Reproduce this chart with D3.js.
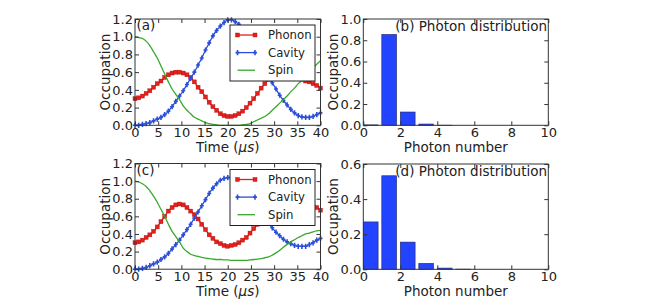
<!DOCTYPE html>
<meta charset="utf-8">
<style>
    body { margin: 0; background: #fff; }
    svg text { font-family: "DejaVu Sans", sans-serif; fill: #222; }
    .frame { fill: none; stroke: #333; stroke-width: 1; }
    .axis path { display: none; }
    .axis line { stroke: #333; }
    .legend .box { fill: #fff; stroke: #222; stroke-width: 1; }
</style>
<body>
<svg id="fig" width="664" height="305"></svg>
<script src="https://cdn.jsdelivr.net/npm/d3@7"></script>
<script>
    // time grid of the simulation (microseconds)
    var times = [0, 0.8, 1.6, 2.4, 3.2, 4, 4.8, 5.6, 6.4, 7.2, 8, 8.8, 9.6, 10.4, 11.2, 12, 12.8, 13.6, 14.4, 15.2,
        16, 16.8, 17.6, 18.4, 19.2, 20, 20.8, 21.6, 22.4, 23.2, 24, 24.8, 25.6, 26.4, 27.2, 28, 28.8, 29.6, 30.4, 31.2,
        32, 32.8, 33.6, 34.4, 35.2, 36, 36.8, 37.6, 38.4, 39.2, 40];

    // panel (a)
    var phononA = [0.30, 0.31, 0.33, 0.36, 0.39, 0.43, 0.47, 0.50, 0.54, 0.57, 0.59, 0.60, 0.60, 0.59, 0.57, 0.54, 0.49, 0.43, 0.38, 0.32,
        0.26, 0.21, 0.17, 0.13, 0.11, 0.10, 0.10, 0.11, 0.13, 0.16, 0.20, 0.25, 0.30, 0.36, 0.42, 0.47, 0.52, 0.56, 0.59, 0.60,
        0.60, 0.59, 0.58, 0.56, 0.54, 0.52, 0.50, 0.49, 0.47, 0.45, 0.42];
    var cavityA = [0.00, 0.00, 0.01, 0.02, 0.03, 0.05, 0.07, 0.09, 0.12, 0.16, 0.21, 0.27, 0.33, 0.39, 0.46, 0.53, 0.60, 0.68, 0.76, 0.85,
        0.93, 1.01, 1.07, 1.12, 1.16, 1.19, 1.19, 1.17, 1.14, 1.09, 1.03, 0.95, 0.87, 0.78, 0.70, 0.62, 0.55, 0.48, 0.41, 0.34,
        0.28, 0.23, 0.18, 0.14, 0.11, 0.095, 0.09, 0.09, 0.10, 0.12, 0.14];
    var spinA = [1.00, 0.99, 0.98, 0.95, 0.90, 0.83, 0.76, 0.67, 0.58, 0.49, 0.41, 0.35, 0.29, 0.22, 0.17, 0.13, 0.09, 0.07, 0.05, 0.03,
        0.02, 0.01, 0.005, 0, 0, 0, 0, 0, 0, 0.005, 0.01, 0.02, 0.04, 0.06, 0.08, 0.10, 0.13, 0.17, 0.21, 0.25,
        0.29, 0.33, 0.38, 0.42, 0.47, 0.51, 0.56, 0.61, 0.65, 0.69, 0.73];

    // panel (c)
    var phononC = [0.30, 0.31, 0.33, 0.36, 0.39, 0.43, 0.48, 0.54, 0.60, 0.66, 0.70, 0.73, 0.74, 0.73, 0.70, 0.66, 0.62, 0.57, 0.51, 0.45,
        0.39, 0.35, 0.31, 0.29, 0.27, 0.26, 0.27, 0.28, 0.30, 0.33, 0.36, 0.41, 0.46, 0.51, 0.56, 0.61, 0.65, 0.69, 0.72, 0.74,
        0.75, 0.76, 0.76, 0.76, 0.75, 0.74, 0.73, 0.72, 0.71, 0.70, 0.67];
    var cavityC = [0.00, 0.00, 0.01, 0.02, 0.04, 0.06, 0.08, 0.11, 0.14, 0.18, 0.23, 0.28, 0.33, 0.39, 0.45, 0.51, 0.58, 0.65, 0.72, 0.79,
        0.86, 0.92, 0.97, 1.01, 1.03, 1.04, 1.04, 1.03, 1.00, 0.96, 0.91, 0.85, 0.78, 0.71, 0.64, 0.58, 0.52, 0.47, 0.42, 0.38,
        0.34, 0.31, 0.29, 0.27, 0.26, 0.26, 0.26, 0.28, 0.30, 0.33, 0.35];
    var spinC = [1.00, 0.99, 0.97, 0.94, 0.89, 0.83, 0.76, 0.68, 0.60, 0.51, 0.43, 0.37, 0.31, 0.24, 0.20, 0.17, 0.155, 0.145, 0.135, 0.125,
        0.12, 0.115, 0.11, 0.11, 0.105, 0.105, 0.10, 0.10, 0.10, 0.10, 0.10, 0.105, 0.11, 0.115, 0.12, 0.13, 0.14, 0.16, 0.185, 0.215,
        0.25, 0.28, 0.31, 0.335, 0.36, 0.38, 0.40, 0.41, 0.425, 0.435, 0.44];

    // photon number distributions, panels (b) and (d)
    var photonN = [0, 1, 2, 3, 4, 5, 6, 7, 8, 9];
    var photonB = [0.004, 0.855, 0.125, 0.012, 0.001, 0, 0, 0, 0, 0];
    var photonD = [0.27, 0.533, 0.155, 0.034, 0.007, 0.001, 0, 0, 0, 0];

    var seriesNames = ["Phonon", "Cavity", "Spin"];
    var timeTicks = [0, 5, 10, 15, 20, 25, 30, 35, 40];
    var occTicksLeft = [0, 0.2, 0.4, 0.6, 0.8, 1.0, 1.2];
    var occTicksB = [0, 0.2, 0.4, 0.6, 0.8, 1.0];
    var occTicksD = [0, 0.2, 0.4, 0.6];
    var numTicks = [0, 2, 4, 6, 8, 10];

    var colors = { Phonon: "#e3201b", Cavity: "#2b4ed8", Spin: "#37a82b" };
    var fmt = d3.format(".1f");

    var svg = d3.select("#fig");

    function axes(g, x, y, xTicks, yTicks, xFmt, yFmt) {
        var top = y.range()[1], bottom = y.range()[0], left = x.range()[0], right = x.range()[1];
        g.append("g").attr("class", "axis").attr("transform", "translate(0," + bottom + ")")
            .call(d3.axisBottom(x).tickValues(xTicks).tickFormat(xFmt).tickSizeInner(-4).tickSizeOuter(0).tickPadding(2.5))
            .selectAll("text").style("font-size", "13px");
        g.append("g").attr("class", "axis").attr("transform", "translate(0," + top + ")")
            .call(d3.axisTop(x).tickValues(xTicks).tickFormat("").tickSizeInner(-4).tickSizeOuter(0));
        g.append("g").attr("class", "axis").attr("transform", "translate(" + left + ",0)")
            .call(d3.axisLeft(y).tickValues(yTicks).tickFormat(yFmt).tickSizeInner(-4).tickSizeOuter(0).tickPadding(2))
            .selectAll("text").style("font-size", "13px");
        g.append("g").attr("class", "axis").attr("transform", "translate(" + right + ",0)")
            .call(d3.axisRight(y).tickValues(yTicks).tickFormat("").tickSizeInner(-4).tickSizeOuter(0));
        g.selectAll(".axis").attr("font-family", null).attr("font-size", null);
        g.append("rect").attr("class", "frame")
            .attr("x", left).attr("y", top).attr("width", right - left).attr("height", bottom - top);
    }

    function marker(sel, name, color) {
        if (name == "Phonon") {
            sel.append("rect").attr("x", -2).attr("y", -2).attr("width", 4).attr("height", 4)
                .attr("fill", color).attr("stroke", "#b01010").attr("stroke-width", 0.4);
        } else if (name == "Cavity") {
            sel.append("path").attr("d", "M0,-2.6V2.6M-2,0H2")
                .attr("stroke", color).attr("stroke-width", 1.6).attr("fill", "none");
        }
    }

    function timePanel(top, bottom, tag, data) {
        var x = d3.scaleLinear().domain([0, 40]).range([135, 320.5]);
        var y = d3.scaleLinear().domain([0, 1.2]).range([bottom, top]);
        var g = svg.append("g");

        var line = d3.line()
            .x(function(d) { return x(d[0]); })
            .y(function(d) { return y(d[1]); })
            .curve(d3.curveCatmullRom);

        seriesNames.forEach(function(name, i) {
            var pts = times.map(function(t, k) { return [t, data[i][k]]; });
            g.append("path").attr("d", line(pts)).attr("fill", "none")
                .attr("stroke", colors[name]).attr("stroke-width", 1.3);
            if (name != "Spin") {
                g.selectAll(".m" + i).data(pts).enter().append("g")
                    .attr("transform", function(d) { return "translate(" + x(d[0]) + "," + y(d[1]) + ")"; })
                    .each(function() { marker(d3.select(this), name, colors[name]); });
            }
        });

        axes(g, x, y, timeTicks, occTicksLeft, d3.format("d"), fmt);

        g.append("text").attr("x", 136.5).attr("y", top + 11).style("font-size", "13.5px").text(tag);

        // legend
        var lg = g.append("g").attr("class", "legend").attr("transform", "translate(230," + (top + 6) + ")");
        lg.append("rect").attr("class", "box").attr("x", 0).attr("y", 0).attr("width", 85).attr("height", 56);
        seriesNames.forEach(function(name, i) {
            var ry = 10 + i * 17.6;
            lg.append("line").attr("x1", 7.5).attr("x2", 25).attr("y1", ry).attr("y2", ry)
                .attr("stroke", colors[name]).attr("stroke-width", 1.3);
            if (name != "Spin") {
                [7.5, 25].forEach(function(mx) {
                    marker(lg.append("g").attr("transform", "translate(" + mx + "," + ry + ")"), name, colors[name]);
                });
            }
            lg.append("text").attr("x", 38).attr("y", ry).attr("dy", "0.36em")
                .style("font-size", "11.7px").text(name);
        });

        g.append("text").attr("transform", "translate(110," + ((top + bottom) / 2) + ") rotate(-90)")
            .attr("text-anchor", "middle").style("font-size", "13.5px").text("Occupation");
        var xl = g.append("text").attr("x", (135 + 320.5) / 2).attr("y", bottom + 27)
            .attr("text-anchor", "middle").style("font-size", "13.5px");
        xl.append("tspan").text("Time (");
        xl.append("tspan").style("font-style", "italic").text("\u03bcs");
        xl.append("tspan").text(")");
    }

    function photonPanel(top, bottom, ymax, yTicks, title, values) {
        var x = d3.scaleLinear().domain([0, 10]).range([363.3, 548.3]);
        var y = d3.scaleLinear().domain([0, ymax]).range([bottom, top]);
        var g = svg.append("g");

        g.selectAll(".bar").data(photonN).enter().append("rect")
            .attr("x", function(n) { return x(n); })
            .attr("width", function() { return x(0.8) - x(0); })
            .attr("y", function(n, i) { return y(values[i]); })
            .attr("height", function(n, i) { return y(0) - y(values[i]); })
            .attr("fill", "#2243ff").attr("stroke", "#2a2a55").attr("stroke-width", 0.6);

        axes(g, x, y, numTicks, yTicks, d3.format("d"), fmt);

        g.append("text").attr("x", 547).attr("y", top + 12).attr("text-anchor", "end")
            .style("font-size", "13.5px").text(title);
        g.append("text").attr("transform", "translate(338," + ((top + bottom) / 2) + ") rotate(-90)")
            .attr("text-anchor", "middle").style("font-size", "13.5px").text("Occupation");
        g.append("text").attr("x", (363.3 + 548.3) / 2).attr("y", bottom + 27)
            .attr("text-anchor", "middle").style("font-size", "13.5px").text("Photon number");
    }

    timePanel(19, 125.3, "(a)", [phononA, cavityA, spinA]);
    photonPanel(19, 125.3, 1.0, occTicksB, "(b) Photon distribution", photonB);
    timePanel(163.5, 269.2, "(c)", [phononC, cavityC, spinC]);
    photonPanel(164, 269.3, 0.6, occTicksD, "(d) Photon distribution", photonD);
</script>
</body>
